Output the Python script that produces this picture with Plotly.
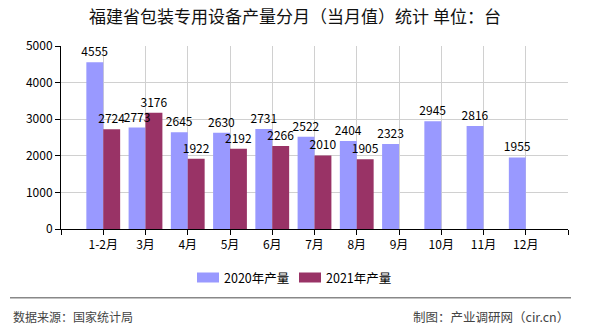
import plotly.graph_objects as go

categories = ["1-2月", "3月", "4月", "5月", "6月", "7月", "8月", "9月", "10月", "11月", "12月"]
values_2020 = [4555, 2773, 2645, 2630, 2731, 2522, 2404, 2323, 2945, 2816, 1955]
values_2021 = [2724, 3176, 1922, 2192, 2266, 2010, 1905]
series_names = ["2020年产量", "2021年产量"]
series_colors = ["#9999FF", "#993366"]
y_ticks = [0, 1000, 2000, 3000, 4000, 5000]

W, H = 590, 330
L, R, T, B = 61, 22, 46, 101
pw, ph = W - L - R, H - T - B

def px_x(p):
    return (p - L) / pw

def px_y(p):
    return (H - B - p) / ph

FONT = "SimSun, 'Noto Sans CJK SC', sans-serif"

series = list(zip(series_names, series_colors, [values_2020, values_2021], ["g1", "g2"]))

fig = go.Figure()
# visible bars
for name, color, vals, grp in series:
    fig.add_trace(go.Bar(
        x=list(range(len(vals))), y=vals, name=name, offsetgroup=grp,
        marker=dict(color=color, line=dict(width=0)),
        showlegend=False, hoverinfo="skip",
    ))
# transparent overlay bars carrying the value labels, drawn on top of all bars
for name, color, vals, grp in series:
    fig.add_trace(go.Bar(
        x=list(range(len(vals))), y=vals, name=name, offsetgroup=grp,
        marker=dict(color="rgba(0,0,0,0)", line=dict(width=0)),
        text=[str(v) for v in vals], textposition="outside",
        textfont=dict(family=FONT, size=12, color="#000"),
        constraintext="none", cliponaxis=False, showlegend=False,
    ))

tickvals = list(range(-1, len(categories) + 1))
ticktext = [""] + categories + [""]

fig.update_layout(
    width=W, height=H,
    margin=dict(l=L, r=R, t=T, b=B, pad=0),
    paper_bgcolor="white", plot_bgcolor="white",
    barmode="group", bargap=0.2, bargroupgap=0,
    font=dict(family=FONT, size=12, color="#000"),
    title=dict(text="福建省包装专用设备产量分月（当月值）统计 单位：台",
               x=295 / W, xanchor="center", y=1 - 17 / H, yanchor="middle",
               font=dict(family="'Noto Sans CJK SC', sans-serif", size=17, color="#111")),
    xaxis=dict(range=[-1, len(categories)], tickmode="array", tickvals=tickvals, ticktext=ticktext,
               showgrid=True, gridcolor="#D0D0D0", gridwidth=1,
               showline=True, linecolor="#000", linewidth=1,
               ticks="outside", ticklen=5, tickcolor="#000",
               tickfont=dict(family=FONT, size=12, color="#000"), zeroline=False),
    yaxis=dict(range=[0, 5000], tickvals=y_ticks,
               showgrid=True, gridcolor="#D0D0D0", gridwidth=1,
               showline=True, linecolor="#000", linewidth=1,
               ticks="outside", ticklen=5, tickcolor="#000",
               tickfont=dict(family=FONT, size=12, color="#000"), zeroline=False),
    showlegend=False,
)

# manual legend (wide swatches like the reference)
legend_x = [197, 299]
for lx, name, color in zip(legend_x, series_names, series_colors):
    fig.add_shape(type="rect", xref="paper", yref="paper",
                  x0=px_x(lx), x1=px_x(lx + 22), y0=px_y(282.5), y1=px_y(272.5),
                  fillcolor=color, line=dict(width=0))
    fig.add_annotation(text=name, xref="paper", yref="paper",
                       x=px_x(lx + 25), y=px_y(277.7), xanchor="left", yanchor="middle",
                       showarrow=False, font=dict(family=FONT, size=12.5, color="#000"))

fig.add_shape(type="line", xref="paper", yref="paper",
              x0=px_x(10), x1=px_x(571), y0=px_y(297.7), y1=px_y(297.7),
              line=dict(color="#888888", width=1.5))

fig.add_annotation(text="数据来源：国家统计局", xref="paper", yref="paper",
                   x=px_x(11), y=px_y(316), xanchor="left", yanchor="middle",
                   showarrow=False, font=dict(family=FONT, size=12, color="#444"))
fig.add_annotation(text="制图：产业调研网（cir.cn）", xref="paper", yref="paper",
                   x=px_x(571), y=px_y(316), xanchor="right", yanchor="middle",
                   showarrow=False, font=dict(family=FONT, size=12.5, color="#444"))

fig.write_html("out.html")
